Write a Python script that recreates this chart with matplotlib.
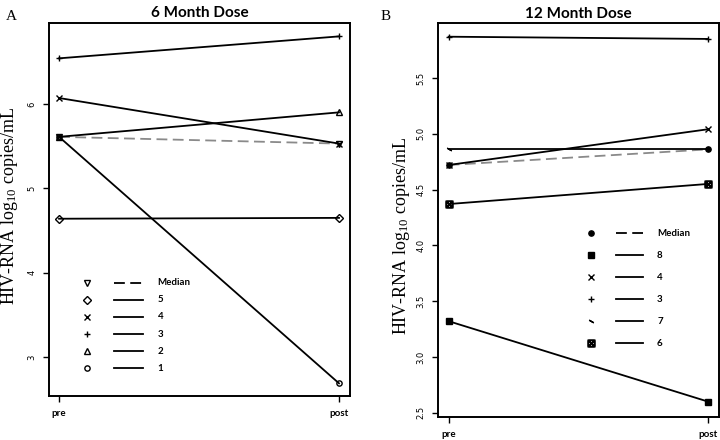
import matplotlib
matplotlib.use("Agg")
import matplotlib.pyplot as plt

# panel A: 6 month dose
A_ids = ["Median", "5", "4", "3", "2", "1"]
A_pre = [5.61, 4.64, 6.07, 6.54, 5.61, 5.61]
A_post = [5.53, 4.65, 5.53, 6.80, 5.90, 2.69]
A_mk = ["v", "D", "x", "+", "^", "o"]

# panel B: 12 month dose
B_ids = ["Median", "8", "4", "3", "7", "6"]
B_pre = [4.72, 3.32, 4.72, 5.87, 4.86, 4.37]
B_post = [4.86, 2.60, 5.04, 5.85, 4.86, 4.55]
B_mk = ["o", "s", "x", "+", (2, 2, 60), "$\u22a0$"]

XLAB = ["pre", "post"]
SANS = "Lato"
TICKF = "DejaVu Sans"
SERIF = "Liberation Serif"


def mstyle(m, filled):
    ms = 5 if m == "$\u22a0$" else 3.8
    return dict(ls="none", marker=m, ms=ms, mfc="black" if filled else "none",
                mec="black", mew=1.0)


def panel(ax, ids, pre, post, mks, title, yticks, ylim, xlim, leg, tickfmt, solid):
    for name, a, b, m in zip(ids, pre, post, mks):
        med = name == "Median"
        ax.plot([0, 1], [a, b], color="#8a8a8a" if med else "black",
                ls=(0, (6, 3)) if med else "-", lw=1.3, zorder=2)
        ax.plot([0, 1], [a, b], zorder=3, **mstyle(m, solid and m in ("o", "s")))
    ax.set_xlim(*xlim); ax.set_ylim(*ylim)
    ax.set_xticks([0, 1]); ax.set_xticklabels(XLAB, fontsize=7, fontweight="bold", family=SANS)
    ax.set_yticks(yticks)
    ax.set_yticklabels([tickfmt(v) for v in yticks], rotation=90, va="center", fontsize=6,
                       family=TICKF)
    ax.tick_params(length=4, width=1, pad=5)
    for s in ax.spines.values():
        s.set_linewidth(1.4)
    ax.set_title(title, fontsize=11, fontweight="bold", family=SANS, pad=4)
    ax.set_ylabel(r"HIV-RNA log$_{10}$ copies/mL", family=SERIF, fontsize=13)
    # R-style legend: marker, line, label
    x0, y0, dy = leg
    for i, (name, m) in enumerate(zip(ids, mks)):
        y = y0 - i * dy
        med = name == "Median"
        ax.plot([x0], [y], transform=ax.transAxes, **mstyle(m, solid and m in ("o", "s")))
        ax.plot([x0 + 0.09, x0 + 0.185], [y, y], transform=ax.transAxes, color="black",
                ls=(0, (6, 3)) if med else "-", lw=1.3)
        ax.text(x0 + 0.235, y, name, transform=ax.transAxes, va="center", ha="left",
                fontsize=7, fontweight="bold", family=SANS)


plt.rcParams["mathtext.fontset"] = "custom"
plt.rcParams["mathtext.rm"] = SERIF
plt.rcParams["mathtext.it"] = SERIF + ":italic"

fig = plt.figure(figsize=(7.2, 4.4), dpi=100)
axA = fig.add_axes([0.068, 0.100, 0.418, 0.848])
axB = fig.add_axes([0.608, 0.052, 0.390, 0.895])

panel(axA, A_ids, A_pre, A_post, A_mk, "6 Month Dose", [3, 4, 5, 6], (2.54, 6.96),
      (-0.036, 1.039), (0.126, 0.304, 0.046), lambda v: f"{v:g}", False)
panel(axB, B_ids, B_pre, B_post, B_mk, "12 Month Dose", [2.5, 3.0, 3.5, 4.0, 4.5, 5.0, 5.5],
      (2.46, 5.99), (-0.042, 1.042), (0.546, 0.467, 0.056), lambda v: f"{v:.1f}", True)
axA.yaxis.set_label_coords(-0.095, 0.51)
axB.yaxis.set_label_coords(-0.093, 0.46)

fig.text(0.008, 0.955, "A", family=SERIF, fontsize=11)
fig.text(0.528, 0.955, "B", family=SERIF, fontsize=11)

fig.savefig("out.png", dpi=100)
